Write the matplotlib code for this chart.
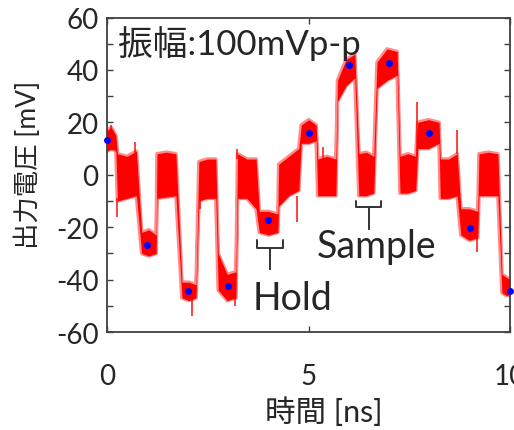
import numpy as np
import matplotlib
matplotlib.use('Agg')
from matplotlib import pyplot as plt
from matplotlib.ticker import MultipleLocator

plt.rcParams['font.family'] = ['Lato', 'Noto Sans CJK JP', 'DejaVu Sans']
plt.rcParams['axes.unicode_minus'] = False

# held value at each clock edge (blue dots), ns / mV
sample_t = [0, 1, 2, 3, 4, 5, 6, 7, 8, 9, 10]
held_mV = [13.4, -26.7, -44.3, -42.6, -17.2, 15.9, 41.9, 42.6, 15.9, -20.3, -44.3]

# hold phases: start / end time, noise band (start, middle, end)
hold_t0 = [0.00, 0.86, 1.86, 2.76, 3.78, 4.82, 5.72, 6.70, 7.71, 8.78, 9.80]
hold_t1 = [0.22, 1.22, 2.21, 3.20, 4.24, 5.19, 6.15, 7.20, 8.24, 9.20, 10.0]
hold_hi = [[17, 18, 15], [-22, -21, -23], [-41, -41, -42], [-30, -38, -37], [-14, -14, -15],
           [19, 21, 19], [36, 44, 46], [43, 48, 47], [20, 21, 20], [-13, -13, -14], [-38, -39, -40]]
hold_lo = [[9, 10, 9], [-30, -31, -30], [-47, -48, -47], [-44, -48, -47], [-22, -23, -22],
           [12, 12, 13], [28, 34, 37], [33, 36, 38], [10, 10, 12], [-23, -25, -24], [-45, -46, -46]]

# sample (track) phases between the holds
track_t0 = [0.26, 1.24, 2.28, 3.24, 4.26, 5.23, 6.25, 7.27, 8.27, 9.23]
track_t1 = [0.73, 1.71, 2.70, 3.70, 4.76, 5.68, 6.62, 7.66, 8.69, 9.70]
track_hi = [[8, 7, 9], [8, 8.6, 8], [5, 6, 6], [8, 6, 6], [4, 7, 10],
            [6, 7, 6], [8, 8.6, 7], [7, 8, 7], [6, 6, 8], [8, 8.6, 8]]
track_lo = [[-10, -9, -8], [-9, -8.5, -8], [-10, -9, -9], [-9, -9, -13], [-12, -8, -6],
            [-8, -8, -8], [-8, -8, -7], [-7, -7, -6], [-9, -9, -8], [-8, -8, -8]]

# isolated noise spikes sticking out of the band
spike_t = [0.10, 0.26, 0.70, 2.11, 2.30, 3.18, 3.22, 4.72, 5.35, 7.69, 8.68, 9.17]
spike_from = [16, -9, 8, -47, -9, -47, 6, -8, 6, 7, 8, -24]
spike_to = [19, -16, 12.5, -54, -13, -50, 9.8, -18, 10.5, 27.7, 17, -29.5]

# chain the segments into one band (hold, track, hold, ...)
env_t, env_hi, env_lo = [], [], []
for k in range(len(hold_t0)):
    segs = [(hold_t0[k], hold_t1[k], hold_hi[k], hold_lo[k])]
    if k < len(track_t0):
        segs.append((track_t0[k], track_t1[k], track_hi[k], track_lo[k]))
    for t0, t1, hi, lo in segs:
        env_t += [t0, (t0 + t1) / 2, t1]
        env_hi += hi
        env_lo += lo
env_t = np.array(env_t)
env_hi = np.array(env_hi)
env_lo = np.array(env_lo)

fig = plt.figure(figsize=(5.14, 4.31), dpi=100)
ax = fig.add_axes([107 / 514, 98 / 431, 403 / 514, 314.5 / 431])

red = '#ff0000'
ax.fill_between(env_t, env_lo, env_hi, facecolor='none', edgecolor=red, lw=2.6, alpha=0.45, zorder=2)
ax.fill_between(env_t, env_lo, env_hi, color=red, lw=0, zorder=2)
ax.vlines(spike_t, spike_from, spike_to, color=red, lw=1.3, alpha=0.8, zorder=2)
ax.plot(sample_t, held_mV, 'o', color='#0000ff', ms=5, mew=0, zorder=4, clip_on=False)

txt = '#262626'
ax.text(0.27, 46, '振幅:100mVp-p', fontsize=25, color=txt, ha='left', va='baseline')
ax.text(3.62, -51.4, 'Hold', fontsize=27, color=txt, ha='left', va='baseline')
ax.text(5.20, -31.4, 'Sample', fontsize=27, color=txt, ha='left', va='baseline')

# bracket marks under the hold / sample plateaus
brk = '#333333'
for x0, x1, ytop, ymid, ybot in [(3.71, 4.37, -25, -28, -36), (6.19, 6.81, -9.9, -12.3, -20.7)]:
    ax.plot([x0, x0, x1, x1], [ytop, ymid, ymid, ytop], color=brk, lw=1.4,
            solid_joinstyle='round', solid_capstyle='round', zorder=3)
    ax.plot([(x0 + x1) / 2] * 2, [ymid, ybot], color=brk, lw=1.4, zorder=3)

ax.set_xlim(0, 10)
ax.set_ylim(-60, 60)
ax.set_xticks([0, 5, 10])
ax.yaxis.set_major_locator(MultipleLocator(20))
ax.yaxis.set_minor_locator(MultipleLocator(10))
ax.tick_params(which='both', direction='in', length=4, width=1, colors='#404040',
               top=True, right=True, labelsize=20, labelcolor=txt)
ax.tick_params(axis='x', pad=22)
ax.tick_params(axis='y', pad=6)
for s in ax.spines.values():
    s.set_color('#404040')
    s.set_linewidth(1.3)

fig.text(324 / 514, 1 - 412 / 431, '時間 [ns]', fontsize=22, color=txt, ha='center', va='center')
fig.text(28 / 514, 1 - 165 / 431, '出力電圧 [mV]', fontsize=19, color=txt, ha='center', va='center',
         rotation=90)

fig.savefig('out.png', dpi=100)
